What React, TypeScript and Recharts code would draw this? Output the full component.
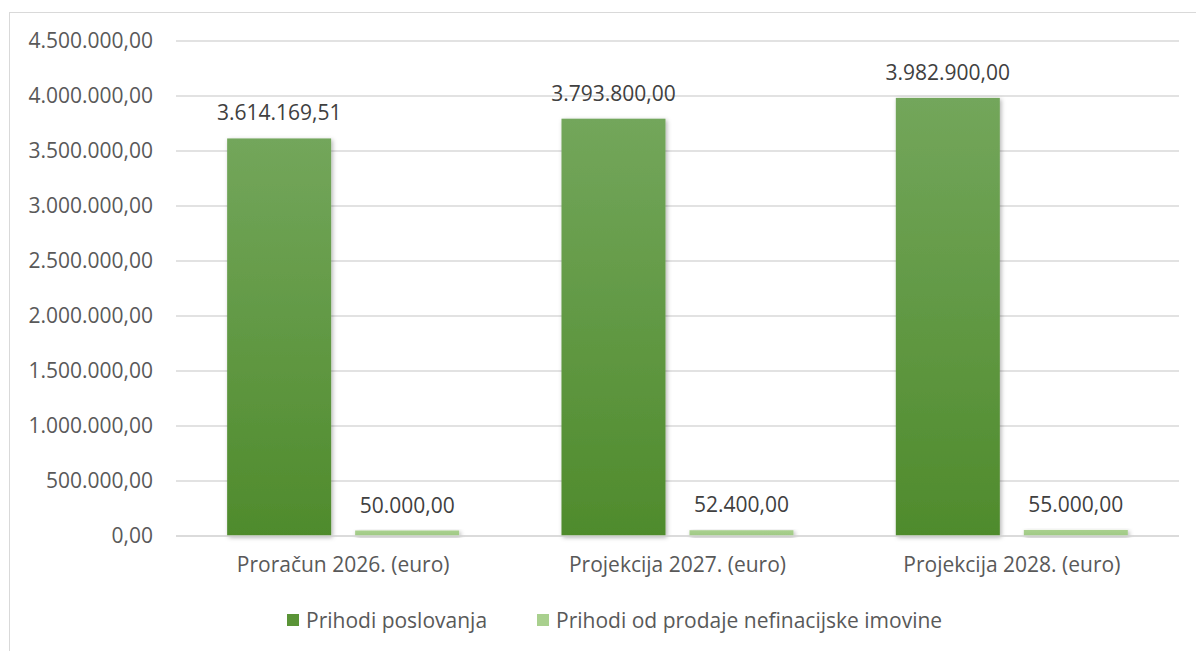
import { BarChart, Bar, XAxis, YAxis, CartesianGrid, Legend, LabelList } from 'recharts';

const categories = ['Proračun 2026. (euro)', 'Projekcija 2027. (euro)', 'Projekcija 2028. (euro)'];
const prihodiPoslovanja = [3614169.51, 3793800.0, 3982900.0];
const prihodiNefinancijske = [50000.0, 52400.0, 55000.0];
const yTicks = [0, 500000, 1000000, 1500000, 2000000, 2500000, 3000000, 3500000, 4000000, 4500000];

const seriesNames = ['Prihodi poslovanja', 'Prihodi od prodaje nefinacijske imovine'];

// hrvatski format: 3.614.169,51
const fmt = (v: number) => {
  const [int, dec] = v.toFixed(2).split('.');
  return int.replace(/\B(?=(\d{3})+(?!\d))/g, '.') + ',' + dec;
};

const chartData = categories.map((c, i) => ({
  name: c,
  poslovanje: prihodiPoslovanja[i],
  nefinancijska: prihodiNefinancijske[i],
}));

const FONT = '"Open Sans", sans-serif';
const FS = 21;

const ShadowRect = (props: any) => {
  const { x, y, width, height, fill } = props;
  return <rect x={x} y={y} width={width} height={height} fill={fill} filter="url(#barShadow)" />;
};

const LegendContent = () => (
  <div style={{ display: 'flex', justifyContent: 'flex-start', alignItems: 'center', height: 30, paddingLeft: 287, fontFamily: FONT, fontSize: FS, color: '#595959' }}>
    <span style={{ display: 'inline-block', width: 12, height: 12, background: '#5a9437', marginRight: 7 }} />
    <span style={{ marginRight: 50 }}>{seriesNames[0]}</span>
    <span style={{ display: 'inline-block', width: 12, height: 12, background: '#a9d08e', marginRight: 7 }} />
    <span>{seriesNames[1]}</span>
  </div>
);

export default function App() {
  return (
    <div style={{ position: 'fixed', left: 0, top: 0, width: 1196, height: 651, background: '#fff', overflow: 'hidden' }}>
      <div style={{ position: 'absolute', left: 9, top: 12, width: 1200, height: 660, border: '1px solid #d9d9d9', boxSizing: 'border-box' }} />
      <div style={{ position: 'absolute', left: 0, top: 0 }}>
        <BarChart
          width={1196}
          height={651}
          data={chartData}
          margin={{ top: 41, right: 17, left: 0, bottom: 16 }}
          barCategoryGap="15.3%"
          barGap={24}
        >
          <defs>
            <linearGradient id="gradDark" x1="0" y1="0" x2="0" y2="1">
              <stop offset="0%" stopColor="#73a65b" />
              <stop offset="100%" stopColor="#4f8b2c" />
            </linearGradient>
            <linearGradient id="gradLight" x1="0" y1="0" x2="0" y2="1">
              <stop offset="0%" stopColor="#a9d08e" />
              <stop offset="100%" stopColor="#9fc984" />
            </linearGradient>
            <filter id="barShadow" x="-20%" y="-20%" width="140%" height="140%">
              <feDropShadow dx="1.5" dy="1.5" stdDeviation="2" floodColor="#000" floodOpacity="0.3" />
            </filter>
          </defs>
          <CartesianGrid vertical={false} stroke="#d9d9d9" strokeWidth={1.3} />
          <XAxis
            dataKey="name"
            height={69}
            axisLine={{ stroke: '#d9d9d9', strokeWidth: 1.3 }}
            tickLine={false}
            tickSize={0}
            tickMargin={21}
            tick={{ fontSize: FS, fill: '#595959', fontFamily: FONT }}
          />
          <YAxis
            width={176}
            domain={[0, 4500000]}
            ticks={yTicks}
            interval={0}
            axisLine={false}
            tickLine={false}
            tickSize={0}
            tickMargin={23}
            tickFormatter={fmt}
            tick={{ fontSize: FS, fill: '#595959', fontFamily: FONT }}
          />
          <Legend verticalAlign="bottom" content={<LegendContent />} />
          <Bar dataKey="poslovanje" name={seriesNames[0]} fill="url(#gradDark)" shape={<ShadowRect />} isAnimationActive={false}>
            <LabelList dataKey="poslovanje" position="top" offset={18} formatter={(v: any) => fmt(Number(v))} style={{ fontSize: FS, fill: '#404040', fontFamily: FONT }} />
          </Bar>
          <Bar dataKey="nefinancijska" name={seriesNames[1]} fill="url(#gradLight)" shape={<ShadowRect />} isAnimationActive={false}>
            <LabelList dataKey="nefinancijska" position="top" offset={18} formatter={(v: any) => fmt(Number(v))} style={{ fontSize: FS, fill: '#404040', fontFamily: FONT }} />
          </Bar>
        </BarChart>
      </div>
    </div>
  );
}
